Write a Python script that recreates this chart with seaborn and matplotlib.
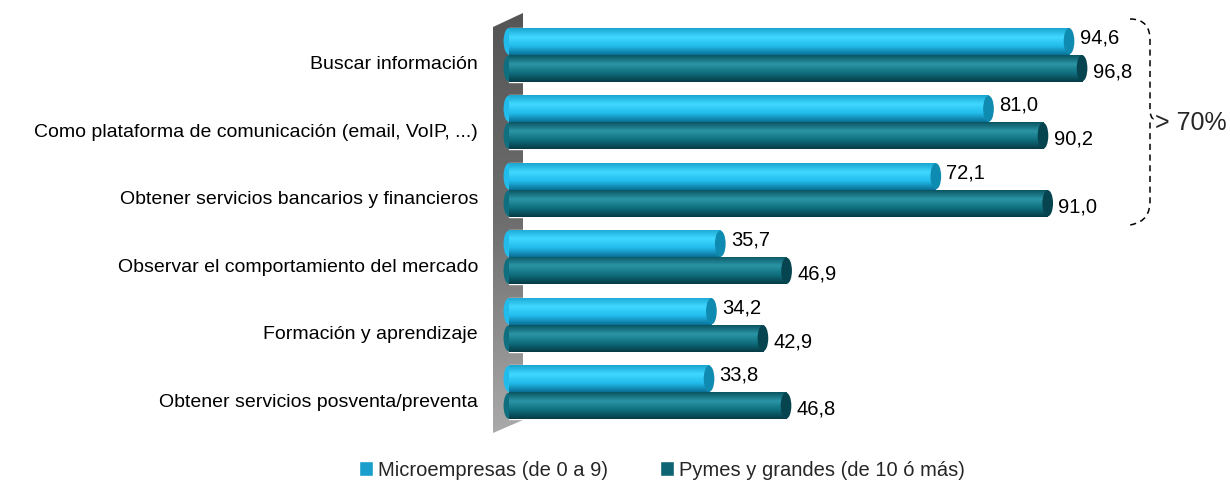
import numpy as np
import pandas as pd
import seaborn as sns
from matplotlib import pyplot as plt
from matplotlib.colors import LinearSegmentedColormap
from matplotlib.patches import Ellipse, Polygon, PathPatch
from matplotlib.path import Path
from matplotlib.transforms import ScaledTranslation

CATEGORIES = [
    "Buscar información",
    "Como plataforma de comunicación (email, VoIP, ...)",
    "Obtener servicios bancarios y financieros",
    "Observar el comportamiento del mercado",
    "Formación y aprendizaje",
    "Obtener servicios posventa/preventa",
]
SERIES = ["Microempresas (de 0 a 9)", "Pymes y grandes (de 10 ó más)"]
MICRO = [94.6, 81.0, 72.1, 35.7, 34.2, 33.8]
PYMES = [96.8, 90.2, 91.0, 46.9, 42.9, 46.8]
BRACKET_LABEL = "> 70%"

LEGEND_COLORS = ["#1a9fcc", "#0e6473"]
# top, highlight, mid, bottom shades for the cylinder look
GRADIENTS = [
    ["#1aa6d0", "#40d8ff", "#22bcec", "#0a7096"],
    ["#0a5563", "#2b95a5", "#0f6f7e", "#063b45"],
]
CAP_COLORS = ["#0f8ab0", "#06444f"]

W, H = 1230, 490


def px(x, y):
    """Pixel position in the 1230x490 canvas to figure fraction."""
    return x / W, 1 - y / H


def main():
    sns.set_theme(style="white")
    plt.rcParams["font.family"] = ["Liberation Sans", "DejaVu Sans"]

    df = pd.DataFrame(
        {
            "categoria": CATEGORIES * 2,
            "valor": MICRO + PYMES,
            "serie": [SERIES[0]] * len(CATEGORIES) + [SERIES[1]] * len(CATEGORIES),
        }
    )

    fig = plt.figure(figsize=(W / 100, H / 100), dpi=100)
    x0, y1 = px(503, 21)
    x1, y0 = px(1101, 426)
    ax = fig.add_axes([x0, y0, x1 - x0, y1 - y0])

    # side wall of the 3D chart, grey gradient darker at the top
    wax = fig.add_axes([493 / W, 1 - 433 / H, 30 / W, 420 / H], zorder=-1)
    wall_cmap = LinearSegmentedColormap.from_list("wall", ["#555555", "#6e6e6e", "#aaaaaa"])
    wim = wax.imshow(np.linspace(0, 1, 256).reshape(-1, 1), aspect="auto", cmap=wall_cmap,
                     extent=[0, 1, 0, 1], origin="upper")
    wim.set_clip_path(Polygon([(0, 0), (0, 406 / 420), (1, 1), (1, 13 / 420)],
                              closed=True, transform=wax.transAxes))
    wax.set_axis_off()

    sns.barplot(
        data=df, x="valor", y="categoria", hue="serie", orient="h",
        palette=LEGEND_COLORS, width=0.8, gap=0.0, ax=ax, legend=False, zorder=2,
    )

    # cylinder shading on each bar
    for container, grad, cap in zip(ax.containers, GRADIENTS, CAP_COLORS):
        cmap = LinearSegmentedColormap.from_list("g", grad)
        for bar in container:
            bx, by = bar.get_x(), bar.get_y()
            bw, bh = bar.get_width(), bar.get_height()
            img = ax.imshow(
                np.linspace(0, 1, 64).reshape(-1, 1), cmap=cmap, aspect="auto",
                extent=[bx, bx + bw, by + bh, by], origin="upper", zorder=3,
            )
            img.set_clip_path(bar)
            ax.add_patch(Ellipse((bx + bw, by + bh / 2), 1.8, bh * 0.97, facecolor=cap, edgecolor="none", zorder=4))
            ax.add_patch(Ellipse((bx, by + bh / 2), 1.8, bh * 0.97, facecolor=grad[2], edgecolor="none", zorder=2))
    ax.set_xlim(-1, 100)
    ax.set_ylim(len(CATEGORIES) - 0.5, -0.5)

    # value labels
    for container, vals, dy in zip(ax.containers, [MICRO, PYMES], [-0.05, 0.05]):
        for bar, v in zip(container, vals):
            ax.text(
                bar.get_width() + 1.8, bar.get_y() + bar.get_height() / 2 + dy,
                f"{v:.1f}".replace(".", ","), va="center", ha="left", fontsize=14.5, color="black",
            )

    ax.set_xlabel("")
    ax.set_ylabel("")
    ax.set_xticks([])
    ax.tick_params(axis="y", length=0, pad=18, labelsize=14, labelcolor="black")
    # category labels sit a little below the group centre
    shift = ScaledTranslation(0, -8 / 100, fig.dpi_scale_trans)
    for lab in ax.get_yticklabels():
        lab.set_transform(lab.get_transform() + shift)
    for s in ax.spines.values():
        s.set_visible(False)
    ax.patch.set_alpha(0)

    # legend
    handles = [plt.Rectangle((0, 0), 1, 1, facecolor=c) for c in LEGEND_COLORS]
    fig.legend(
        handles, SERIES, loc="center", bbox_to_anchor=px(662, 470), ncol=2, frameon=False,
        fontsize=14.5, handlelength=0.7, handleheight=0.7, handletextpad=0.25, columnspacing=2.6,
        borderpad=0,
    )

    # dashed brace for the >70% group
    verts = [
        px(1130, 19), px(1145, 19), px(1150, 28), px(1150, 40),
        px(1150, 110), px(1150, 116), px(1153, 119), px(1150, 122),
        px(1150, 200), px(1150, 213), px(1146, 222), px(1130, 225),
    ]
    codes = [
        Path.MOVETO, Path.CURVE4, Path.CURVE4, Path.CURVE4,
        Path.LINETO, Path.CURVE3, Path.CURVE3, Path.LINETO,
        Path.LINETO, Path.CURVE4, Path.CURVE4, Path.CURVE4,
    ]
    brace = PathPatch(Path(verts, codes), transform=fig.transFigure, fill=False,
                      edgecolor="black", linestyle=(0, (4, 3)), linewidth=1.1)
    fig.patches.append(brace)
    fig.text(*px(1155, 123), BRACKET_LABEL, fontsize=18, va="center", ha="left")

    fig.savefig("out.png", dpi=100)
    plt.close(fig)


if __name__ == "__main__":

    main()
